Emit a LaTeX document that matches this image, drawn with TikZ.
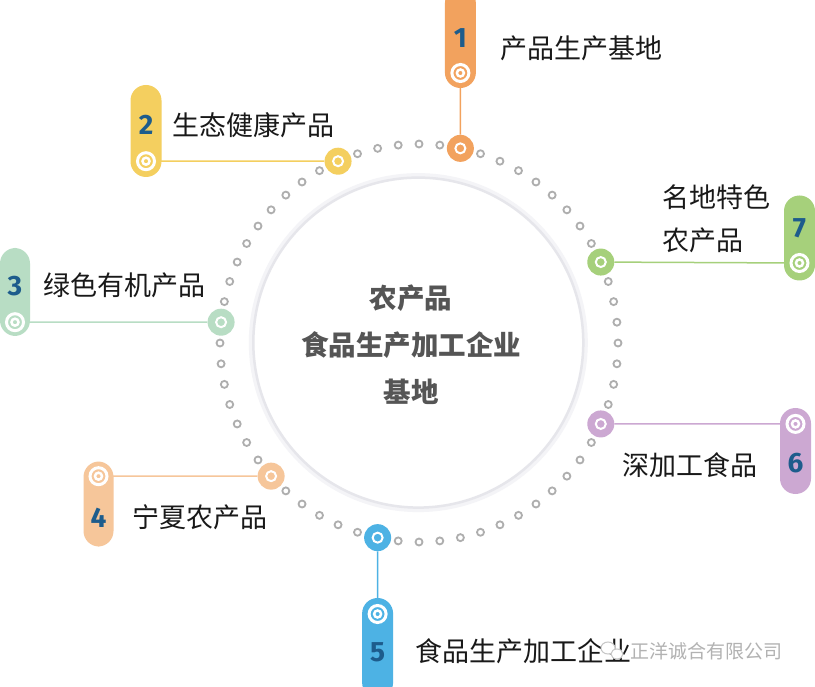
\documentclass[tikz,border=0pt]{standalone}
\usepackage{fontspec}
\setmainfont{Noto Sans CJK SC}
\newfontfamily\numfont{Fira Sans}
\definecolor{c1}{HTML}{F2A25E}
\definecolor{c2}{HTML}{F4CF5F}
\definecolor{c3}{HTML}{B8DDC4}
\definecolor{c4}{HTML}{F6C69A}
\definecolor{c5}{HTML}{4DB2E4}
\definecolor{c6}{HTML}{CCA8D2}
\definecolor{c7}{HTML}{A6D07B}
\definecolor{numblue}{HTML}{1D5C8C}
\definecolor{dotgray}{HTML}{AEAEAE}
\definecolor{ctext}{HTML}{555555}
\definecolor{hubedge}{HTML}{E6E6EB}
\definecolor{hubshadow}{HTML}{F4F4F7}
\begin{document}
\begin{tikzpicture}[x=1pt,y=-1pt,
  pillbox/.style={fill=#1, rounded corners=15.5pt, minimum width=31pt, inner sep=0pt},
  bignode/.style={circle, fill=#1, minimum size=27pt, inner sep=0pt,
    path picture={\draw[white,line width=2pt] (path picture bounding box.center) circle (5pt);}},
  pillring/.style={circle, minimum size=24pt, inner sep=0pt,
    path picture={\draw[white,line width=3pt] (path picture bounding box.center) circle (8.5pt);
                  \draw[white,line width=2.5pt] (path picture bounding box.center) circle (3.5pt);}},
  dotring/.style={circle, draw=dotgray, line width=1.8pt, minimum size=7pt, inner sep=0pt},
  conn/.style={draw=#1, line width=1.5pt},
  num/.style={font=\numfont\bfseries\fontsize{28}{28}\selectfont, text=numblue, inner sep=0pt},
  lbl/.style={font=\fontsize{27}{27}\selectfont, text=black!90, anchor=west, inner sep=0pt},
]
\useasboundingbox (0,0) rectangle (815,687);
\fill[white] (0,0) rectangle (815,687);

% hub
\node[circle, minimum size=339pt, fill=hubshadow, inner sep=0pt] (hubshade) at (418.3,342.6) {};
\node[circle, minimum size=330pt, fill=white, draw=hubedge, line width=2.5pt, inner sep=0pt] (hub) at (418.3,342.6) {};
\node[align=center, font=\bfseries\fontsize{27.5}{47}\selectfont, text=ctext] (hubtext) at (411,345)
  {农产品\\食品生产加工企业\\基地};

% ring of dots
\foreach \i in {0,...,59}{
  \node[dotring] (d\i) at ({419+199*cos(6*\i)},{343-199*sin(6*\i)}) {};
}

% pills
\node[pillbox=c1, minimum height=100pt] (pill1) at (460.4,38) {};
\node[pillbox=c2, minimum height=92pt] (pill2) at (146,131) {};
\node[pillbox=c3, minimum height=88pt, minimum width=30pt] (pill3) at (15,292) {};
\node[pillbox=c4, minimum height=85pt, minimum width=30pt] (pill4) at (98.5,504) {};
\node[pillbox=c5, minimum height=100pt] (pill5) at (377.6,648) {};
\node[pillbox=c6, minimum height=86pt] (pill6) at (795.5,451) {};
\node[pillbox=c7, minimum height=85pt] (pill7) at (799.5,238) {};

% pill rings
\node[pillring] (p1) at (460.4,73) {};
\node[pillring] (p2) at (146,161.2) {};
\node[pillring] (p3) at (15,322.2) {};
\node[pillring] (p4) at (98.5,476.2) {};
\node[pillring] (p5) at (377.6,614) {};
\node[pillring] (p6) at (795.5,423.9) {};
\node[pillring] (p7) at (799.5,263) {};

% big nodes on the ring
\node[bignode=c7] (n7) at ({419+199*cos(24)},{343-199*sin(24)}) {};
\node[bignode=c1] (n1) at ({419+199*cos(78)},{343-199*sin(78)}) {};
\node[bignode=c2] (n2) at ({419+199*cos(114)},{343-199*sin(114)}) {};
\node[bignode=c3] (n3) at ({419+199*cos(174)},{343-199*sin(174)}) {};
\node[bignode=c4] (n4) at ({419+199*cos(222)},{343-199*sin(222)}) {};
\node[bignode=c5] (n5) at ({419+199*cos(258)},{343-199*sin(258)}) {};
\node[bignode=c6] (n6) at ({419+199*cos(336)},{343-199*sin(336)}) {};

% connectors
\draw[conn=c1] (p1) -- (n1);
\draw[conn=c2] (p2) -- (n2);
\draw[conn=c3] (p3) -- (n3);
\draw[conn=c4] (p4) -- (n4);
\draw[conn=c5] (n5) -- (p5);
\draw[conn=c6] (n6) -- (p6);
\draw[conn=c7] (n7) -- (p7);

% numbers
\node[num] (num1) at (460.4,38) {1};
\node[num] (num2) at (146,125) {2};
\node[num] (num3) at (15,286) {3};
\node[num] (num4) at (98.5,518) {4};
\node[num] (num5) at (377.6,652) {5};
\node[num] (num6) at (795.5,463) {6};
\node[num] (num7) at (799.5,228) {7};

% labels
\node[lbl] (t1) at (500,48) {产品生产基地};
\node[lbl] (t2) at (172,125) {生态健康产品};
\node[lbl] (t3) at (43,285) {绿色有机产品};
\node[lbl] (t4) at (132,517) {宁夏农产品};
\node[lbl] (t5) at (415,651) {食品生产加工企业};
\node[lbl] (t6) at (622,465) {深加工食品};
\node[lbl] (t7a) at (662,197) {名地特色};
\node[lbl] (t7b) at (662,240) {农产品};

% watermark
\draw[gray!45, line width=1pt, fill=white] (608,648) ellipse (7pt and 6pt);
\draw[gray!45, line width=1pt, fill=white] (617,654) ellipse (6pt and 5pt);
\node[font=\fontsize{19}{19}\selectfont, text=gray!60, anchor=west, inner sep=0pt] (wm) at (630,651) {正洋诚合有限公司};
\end{tikzpicture}
\end{document}
